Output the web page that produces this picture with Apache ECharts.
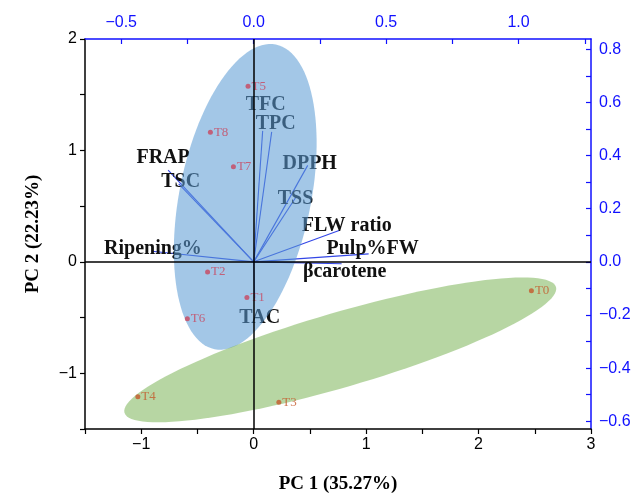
<!DOCTYPE html>
<html>
<head>
<meta charset="utf-8">
<script src="https://cdn.jsdelivr.net/npm/echarts@6/dist/echarts.min.js"></script>
<style>
html,body{margin:0;padding:0;background:#fff;}
#c{width:642px;height:499px;}
</style>
</head>
<body>
<div id="c"></div>
<script>
// ---- data ----
const varNames = ['Ripening%','FRAP','TSC','TFC','TPC','DPPH','TSS','FLW ratio','Pulp%FW','βcarotene','TAC'];
const loadPC1 = [-0.384,-0.323,-0.283,0.034,0.068,0.204,0.158,0.325,0.434,0.332,0.004];
const loadPC2 = [0.040,0.345,0.293,0.493,0.489,0.363,0.241,0.119,0.030,-0.007,-0.137];

const scoreNames = ['T0','T1','T2','T3','T4','T5','T6','T7','T8'];
const scorePC1 = [2.47,-0.06,-0.41,0.224,-1.03,-0.05,-0.59,-0.18,-0.385];
const scorePC2 = [-0.26,-0.32,-0.09,-1.26,-1.21,1.575,-0.51,0.854,1.163];
const scoreGroup = [1,0,0,1,1,0,0,0,0];

// confidence ellipses: centre, semi-axes, rotation (deg)
const ellCX = [-0.075, 0.77];
const ellCY = [0.583, -0.79];
const ellA = [1.394, 2.0];
const ellB = [0.585, 0.335];
const ellAng = [78.75, 16.4];

const bottomTicks = [-1.5, 3];
const leftTicks = [-1.5, 2];
const topLabels = [-0.5, 0, 0.5, 1.0];
const topTicks = [-0.5,-0.25,0,0.25,0.5,0.75,1.0,1.25];
const rightLabels = [-0.6,-0.4,-0.2,0,0.2,0.4,0.6,0.8];
const rightTicks = [-0.6,-0.5,-0.4,-0.3,-0.2,-0.1,0,0.1,0.2,0.3,0.4,0.5,0.6,0.7,0.8];

// ---- styles ----
const labelOffset = {
  'Ripening%':[1,-2],'FRAP':[-5,-12],'TSC':[2,-2],'TFC':[3,-26],'TPC':[4,-8],
  'DPPH':[2,-2],'TSS':[0,1],'FLW ratio':[7,-4],'Pulp%FW':[4,-5],'βcarotene':[3,8],'TAC':[5,20]
};
const groupColor = ['#c8465f', '#c4592a'];
const ellColor = ['rgba(91,155,213,0.56)', 'rgba(112,173,71,0.5)'];
const BLUE = '#1010ff';
const minus = s => String(s).replace('-', '\u2212');
const sans = '"Liberation Sans", Arial, sans-serif';
const serif = '"Liberation Serif", "Times New Roman", serif';

const chart = echarts.init(document.getElementById('c'), null, {renderer:'canvas'});

const option = {
  animation: false,
  backgroundColor: '#fff',
  grid: {left: 85, right: 51, top: 39, bottom: 63, containLabel: false},
  xAxis: [
    {
      type: 'value', position: 'bottom', min: bottomTicks[0], max: bottomTicks[1], interval: 0.5,
      axisLine: {show: true, onZero: false, lineStyle: {color: '#000', width: 1.5}},
      axisTick: {show: true, inside: false, length: 5, lineStyle: {color: '#000', width: 1.2}},
      axisLabel: {color: '#000', fontFamily: sans, fontSize: 16, margin: 8,
        formatter: v => Number.isInteger(v) ? minus(v) : ''},
      splitLine: {show: false},
      name: 'PC 1 (35.27%)', nameLocation: 'middle', nameGap: 46,
      nameTextStyle: {fontFamily: serif, fontWeight: 'bold', fontSize: 19, color: '#000'}
    },
    {
      type: 'value', position: 'top', min: -1.5/2.356, max: 3/2.356,
      axisLine: {show: true, onZero: false, lineStyle: {color: BLUE, width: 1.5}},
      axisTick: {show: true, inside: true, length: 5, customValues: topTicks, lineStyle: {color: BLUE, width: 1.2}},
      axisLabel: {color: BLUE, fontFamily: sans, fontSize: 16, margin: 8, customValues: topLabels,
        formatter: v => minus(v.toFixed(1))},
      splitLine: {show: false}
    }
  ],
  yAxis: [
    {
      type: 'value', position: 'left', min: leftTicks[0], max: leftTicks[1], interval: 0.5,
      axisLine: {show: true, onZero: false, lineStyle: {color: '#000', width: 1.5}},
      axisTick: {show: true, inside: false, length: 5, lineStyle: {color: '#000', width: 1.2}},
      axisLabel: {color: '#000', fontFamily: sans, fontSize: 16, margin: 8,
        formatter: v => Number.isInteger(v) ? minus(v) : ''},
      splitLine: {show: false},
      name: 'PC 2 (22.23%)', nameLocation: 'middle', nameGap: 42,
      nameTextStyle: {fontFamily: serif, fontWeight: 'bold', fontSize: 19, color: '#000'}
    },
    {
      type: 'value', position: 'right', min: -1.5/2.385, max: 2/2.385,
      axisLine: {show: true, onZero: false, lineStyle: {color: BLUE, width: 1.5}},
      axisTick: {show: true, inside: true, length: 5, customValues: rightTicks, lineStyle: {color: BLUE, width: 1.2}},
      axisLabel: {color: BLUE, fontFamily: sans, fontSize: 16, margin: 8, customValues: rightLabels,
        formatter: v => minus(v.toFixed(1))},
      splitLine: {show: false}
    }
  ],
  series: [
    {
      type: 'line', xAxisIndex: 0, yAxisIndex: 0, data: [], z: 1, silent: true,
      markLine: {
        symbol: 'none', silent: true, animation: false,
        label: {show: false},
        lineStyle: {color: '#000', width: 1.5, type: 'solid'},
        emphasis: {disabled: true},
        data: [{xAxis: 0}, {yAxis: 0}]
      }
    },
    {
      type: 'custom', xAxisIndex: 1, yAxisIndex: 1, z: 2, silent: true, clip: false,
      data: varNames.map((n, i) => [loadPC1[i], loadPC2[i], i]),
      renderItem: (params, api) => {
        const o = api.coord([0, 0]);
        const e = api.coord([api.value(0), api.value(1)]);
        const name = varNames[api.value(2)];
        const off = labelOffset[name];
        return {
          type: 'group',
          children: [
            {type: 'line', shape: {x1: o[0], y1: o[1], x2: e[0], y2: e[1]},
             style: {stroke: '#3346e6', lineWidth: 1.1}},
            {type: 'text', x: e[0] + off[0], y: e[1] + off[1],
             style: {text: name, align: 'center', verticalAlign: 'middle',
               font: 'bold 20px ' + serif, fill: '#111'}}
          ]
        };
      }
    },
    {
      type: 'custom', xAxisIndex: 0, yAxisIndex: 0, z: 3, silent: true,
      data: ellCX.map((c, i) => [c, ellCY[i], ellA[i], ellB[i], ellAng[i], i]),
      renderItem: (params, api) => {
        const cx = api.value(0), cy = api.value(1), a = api.value(2), b = api.value(3);
        const t = api.value(4) * Math.PI / 180;
        const pts = [];
        for (let k = 0; k < 120; k++) {
          const u = 2 * Math.PI * k / 120;
          const px = a * Math.cos(u), py = b * Math.sin(u);
          pts.push(api.coord([cx + px * Math.cos(t) - py * Math.sin(t), cy + px * Math.sin(t) + py * Math.cos(t)]));
        }
        return {type: 'polygon', shape: {points: pts}, style: {fill: ellColor[api.value(5)], stroke: null}};
      }
    },
    {
      type: 'scatter', xAxisIndex: 0, yAxisIndex: 0, z: 4, silent: true,
      symbol: 'circle', symbolSize: 5,
      data: scoreNames.map((n, i) => ({
        name: n, value: [scorePC1[i], scorePC2[i]],
        itemStyle: {color: groupColor[scoreGroup[i]]},
        label: {color: groupColor[scoreGroup[i]]}
      })),
      label: {show: true, position: 'right', distance: 1, formatter: '{b}',
        fontFamily: serif, fontSize: 13}
    }
  ]
};
chart.setOption(option);
</script>
</body>
</html>
